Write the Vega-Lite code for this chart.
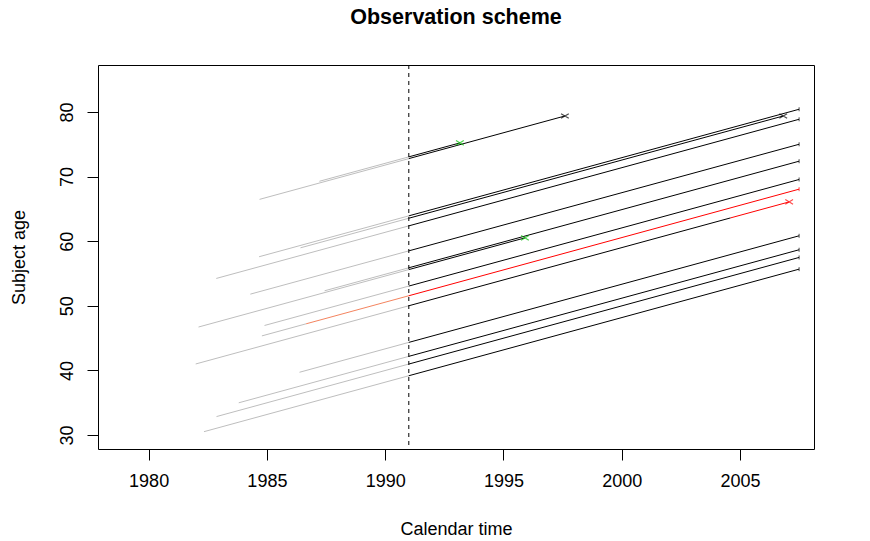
{
  "$schema": "https://vega.github.io/schema/vega-lite/v6.json",
  "width": 716,
  "height": 384,
  "autosize": "none",
  "padding": {"left": 98, "top": 65, "right": 56, "bottom": 92},
  "background": "white",
  "title": {"text": "Observation scheme", "font": "Liberation Sans", "fontSize": 21.5, "fontWeight": "bold", "color": "black", "anchor": "middle", "offset": 36},
  "config": {
    "view": {"stroke": "black", "strokeWidth": 1},
    "axis": {"labelFont": "Liberation Sans", "titleFont": "Liberation Sans", "labelFontSize": 18, "titleFontSize": 18, "titleFontWeight": "normal", "labelColor": "black", "titleColor": "black", "tickColor": "black", "grid": false, "domain": false, "tickSize": 11}
  },
  "datasets": {
    "segs": [
      {"k": "gray", "t0": 1984.67, "a0": 57.59, "t1": 1991, "a1": 63.92},
      {"k": "gray", "t0": 1986.42, "a0": 58.97, "t1": 1991, "a1": 63.55},
      {"k": "gray", "t0": 1982.86, "a0": 54.23, "t1": 1991, "a1": 62.37},
      {"k": "gray", "t0": 1984.30, "a0": 51.80, "t1": 1991, "a1": 58.50},
      {"k": "gray", "t0": 1987.44, "a0": 52.32, "t1": 1991, "a1": 55.88},
      {"k": "gray", "t0": 1982.11, "a0": 46.71, "t1": 1991, "a1": 55.60},
      {"k": "gray", "t0": 1984.90, "a0": 46.95, "t1": 1991, "a1": 53.05},
      {"k": "gray", "t0": 1984.79, "a0": 45.34, "t1": 1986.66, "a1": 47.21},
      {"k": "gray", "t0": 1981.99, "a0": 40.99, "t1": 1991, "a1": 50.00},
      {"k": "gray", "t0": 1986.38, "a0": 39.71, "t1": 1991, "a1": 44.33},
      {"k": "gray", "t0": 1983.81, "a0": 34.98, "t1": 1991, "a1": 42.17},
      {"k": "gray", "t0": 1982.87, "a0": 32.85, "t1": 1991, "a1": 40.98},
      {"k": "gray", "t0": 1982.34, "a0": 30.51, "t1": 1991, "a1": 39.17},
      {"k": "gray", "t0": 1987.22, "a0": 69.27, "t1": 1991, "a1": 73.05},
      {"k": "gray", "t0": 1984.69, "a0": 66.47, "t1": 1991, "a1": 72.78},
      {"k": "lightred", "t0": 1986.66, "a0": 47.21, "t1": 1991, "a1": 51.55},
      {"k": "black", "t0": 1991, "a0": 63.92, "t1": 2007.5, "a1": 80.42},
      {"k": "black", "t0": 1991, "a0": 63.55, "t1": 2006.83, "a1": 79.38},
      {"k": "black", "t0": 1991, "a0": 62.37, "t1": 2007.5, "a1": 78.87},
      {"k": "black", "t0": 1991, "a0": 58.50, "t1": 2007.5, "a1": 75.00},
      {"k": "black", "t0": 1991, "a0": 55.88, "t1": 2007.5, "a1": 72.38},
      {"k": "black", "t0": 1991, "a0": 55.60, "t1": 1995.91, "a1": 60.51},
      {"k": "black", "t0": 1991, "a0": 53.05, "t1": 2007.5, "a1": 69.55},
      {"k": "black", "t0": 1991, "a0": 50.00, "t1": 2004.6, "a1": 63.60},
      {"k": "black", "t0": 1991, "a0": 44.33, "t1": 2007.5, "a1": 60.83},
      {"k": "black", "t0": 1991, "a0": 42.17, "t1": 2007.5, "a1": 58.67},
      {"k": "black", "t0": 1991, "a0": 40.98, "t1": 2007.5, "a1": 57.48},
      {"k": "black", "t0": 1991, "a0": 39.17, "t1": 2007.5, "a1": 55.67},
      {"k": "black", "t0": 1991, "a0": 73.05, "t1": 1993.16, "a1": 75.21},
      {"k": "black", "t0": 1991, "a0": 72.78, "t1": 1997.60, "a1": 79.38},
      {"k": "red", "t0": 1991, "a0": 51.55, "t1": 2007.5, "a1": 68.05},
      {"k": "red", "t0": 2004.6, "a0": 63.60, "t1": 2007.08, "a1": 66.08}
    ],
    "events": [
      {"k": "black", "t": 2006.83, "a": 79.38},
      {"k": "green", "t": 1995.91, "a": 60.51},
      {"k": "red", "t": 2007.08, "a": 66.08},
      {"k": "green", "t": 1993.16, "a": 75.21},
      {"k": "black", "t": 1997.60, "a": 79.38}
    ],
    "censor": [
      {"k": "black", "t": 2007.5, "a": 80.42},
      {"k": "black", "t": 2007.5, "a": 78.87},
      {"k": "black", "t": 2007.5, "a": 75.00},
      {"k": "black", "t": 2007.5, "a": 72.38},
      {"k": "black", "t": 2007.5, "a": 69.55},
      {"k": "red", "t": 2007.5, "a": 68.05},
      {"k": "black", "t": 2007.5, "a": 60.83},
      {"k": "black", "t": 2007.5, "a": 58.67},
      {"k": "black", "t": 2007.5, "a": 57.48},
      {"k": "black", "t": 2007.5, "a": 55.67}
    ],
    "cut": [{"t": 1991}]
  },
  "layer": [
    {
      "data": {"name": "segs"},
      "mark": {"type": "rule", "strokeWidth": 1},
      "encoding": {
        "x": {"field": "t0", "type": "quantitative", "scale": {"domain": [1977.86, 2008.13], "nice": false, "zero": false}, "axis": {"values": [1980, 1985, 1990, 1995, 2000, 2005], "format": "d", "title": "Calendar time", "labelPadding": 12, "titlePadding": 30}},
        "y": {"field": "a0", "type": "quantitative", "scale": {"domain": [27.83, 87.27], "nice": false, "zero": false}, "axis": {"values": [30, 40, 50, 60, 70, 80], "title": "Subject age", "labelAngle": -90, "labelAlign": "center", "labelBaseline": "alphabetic", "labelPadding": 15, "titlePadding": 30}},
        "x2": {"field": "t1"},
        "y2": {"field": "a1"},
        "color": {"field": "k", "type": "nominal", "scale": {"domain": ["gray", "black", "red", "lightred", "green"], "range": ["#BEBEBE", "#000000", "#FF0000", "#F4845F", "#00BE00"]}, "legend": null}
      }
    },
    {
      "data": {"name": "cut"},
      "mark": {"type": "rule", "color": "black", "strokeWidth": 1, "strokeDash": [4, 4]},
      "encoding": {"x": {"field": "t", "type": "quantitative"}}
    },
    {
      "data": {"name": "events"},
      "mark": {"type": "point", "shape": "M-1,-0.6L1,0.6M-1,0.6L1,-0.6", "size": 60, "strokeWidth": 1.2, "filled": false},
      "encoding": {
        "x": {"field": "t", "type": "quantitative"},
        "y": {"field": "a", "type": "quantitative"},
        "color": {"field": "k", "type": "nominal"}
      }
    },
    {
      "data": {"name": "censor"},
      "mark": {"type": "point", "shape": "M0,-1L0,1", "size": 16, "strokeWidth": 1, "filled": false},
      "encoding": {
        "x": {"field": "t", "type": "quantitative"},
        "y": {"field": "a", "type": "quantitative"},
        "color": {"field": "k", "type": "nominal"}
      }
    }
  ]
}
